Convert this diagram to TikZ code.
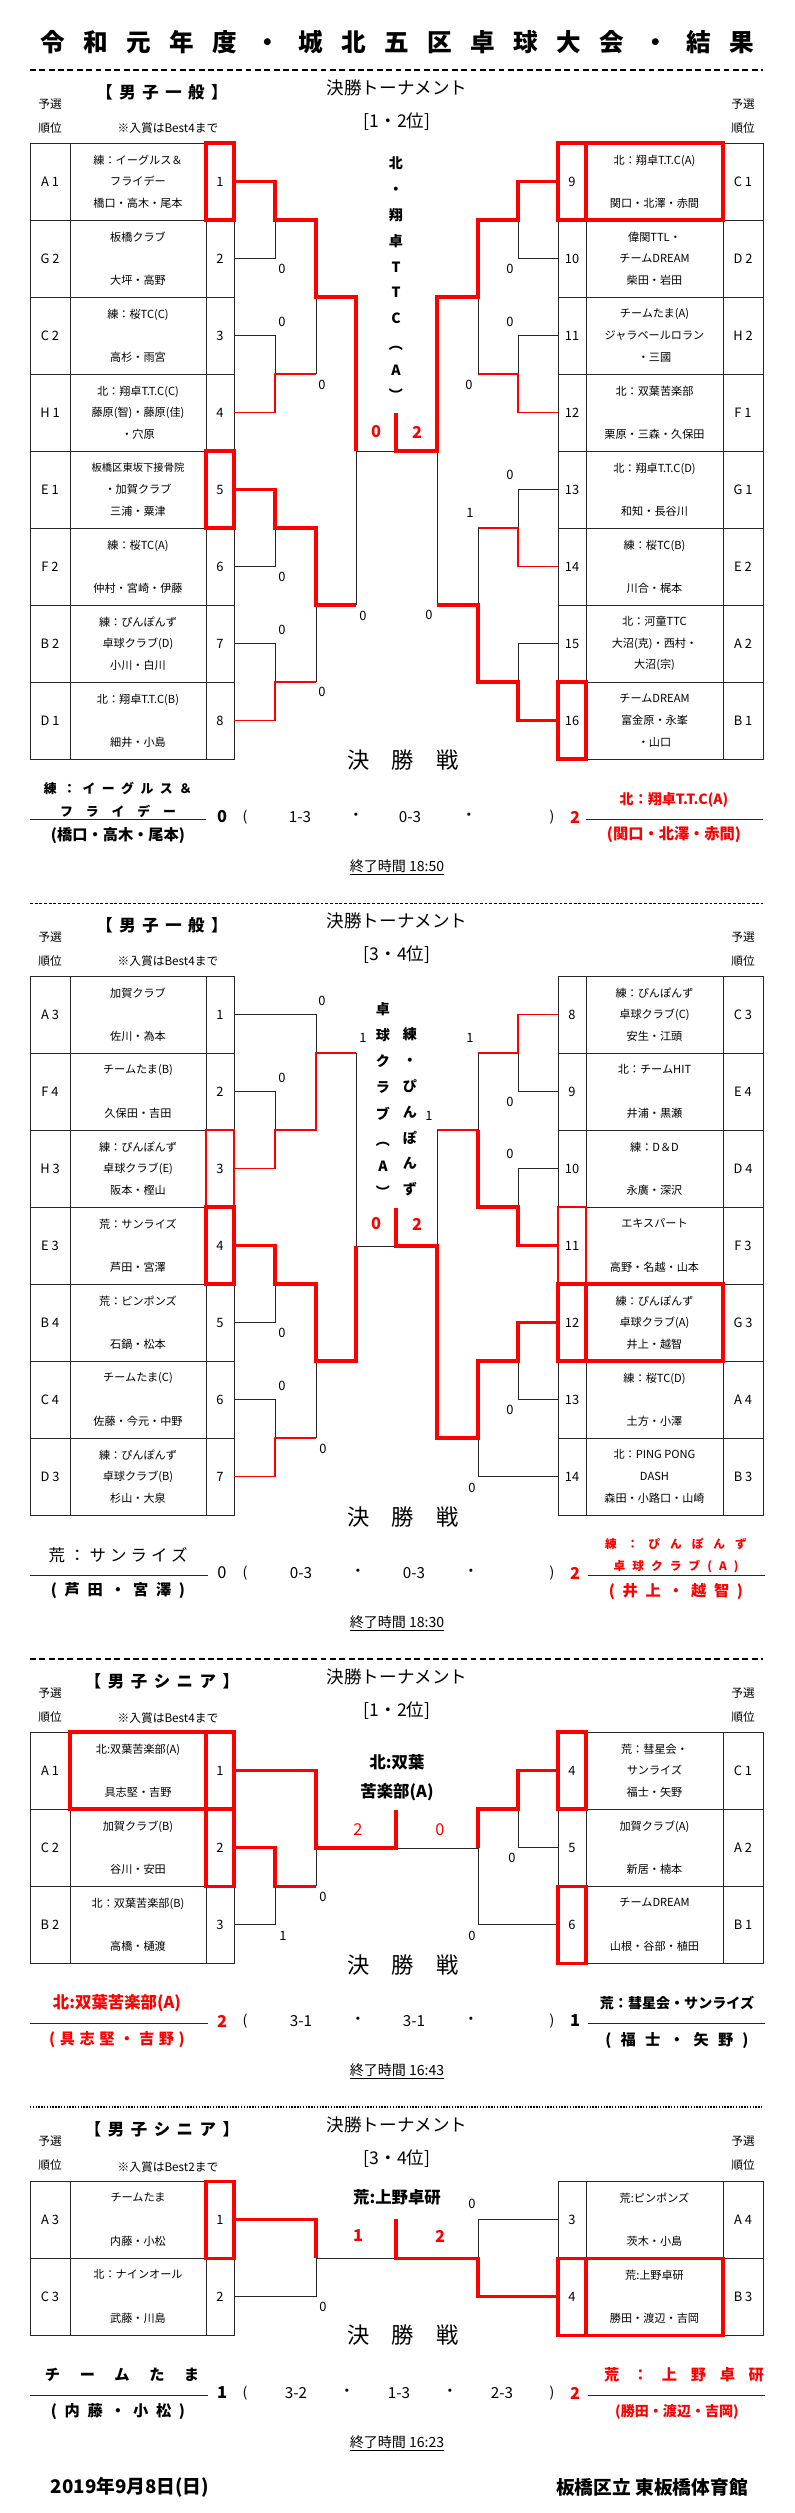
\documentclass[tikz,border=0pt]{standalone}
\usepackage{fontspec}
\setmainfont{Noto Sans CJK JP}
\usetikzlibrary{positioning}

\tikzset{
  grid/.style = {black!85, line width=0.8pt},
  br/.style   = {black!85, line width=0.8pt},
  wl/.style   = {red, line width=1pt},
  wt/.style   = {red, line width=2.6pt},
  cell/.style = {font=\fontsize{9.5}{18.5}\selectfont, align=center, inner sep=0pt},
  rank/.style = {font=\fontsize{11}{13}\selectfont, inner sep=0pt},
  sc/.style   = {font=\fontsize{11}{13}\selectfont, inner sep=0pt},
  rs/.style   = {font=\fontsize{14}{16}\bfseries\selectfont, text=red, inner sep=0pt},
  hd/.style   = {font=\fontsize{14}{16}\bfseries\addfontfeature{LetterSpace=40}\selectfont, inner sep=0pt},
  tn/.style   = {font=\fontsize{15}{18}\selectfont, inner sep=0pt},
  sm/.style   = {font=\fontsize{10}{12}\selectfont, inner sep=0pt},
  fin/.style  = {font=\fontsize{19}{22}\addfontfeature{LetterSpace=100}\selectfont, inner sep=0pt},
  vt/.style   = {font=\fontsize{12}{22}\bfseries\selectfont, align=center, inner sep=0pt},
  nm/.style   = {font=\fontsize{12}{14}\bfseries\selectfont, inner sep=0pt},
  tm/.style   = {font=\fontsize{12}{14}\selectfont, inner sep=0pt},
}

\newcounter{lbl}
\newcommand\sclab[4][sc]{\stepcounter{lbl}\node[#1] (lab\arabic{lbl}) at (#2,#3) {#4};}

% left table: prefix, top, rows rank/name/number
\newcommand\lefttable[3]{
  \foreach \rk/\nm/\n [count=\i] in {#3} {
    \pgfmathsetmacro\t{#2+77*(\i-1)}
    \draw[grid] (30,\t) rectangle (234,\t+77) (70,\t) -- (70,\t+77) (206,\t) -- (206,\t+77);
    \node[rank] (#1r\n) at (50,\t+38.5) {\rk};
    \node[cell] (#1t\n) at (138,\t+38.5) {\nm};
    \node[rank] (#1n\n) at (220,\t+38.5) {\n};
  }
}
\newcommand\righttable[3]{
  \foreach \rk/\nm/\n [count=\i] in {#3} {
    \pgfmathsetmacro\t{#2+77*(\i-1)}
    \draw[grid] (558,\t) rectangle (763,\t+77) (586,\t) -- (586,\t+77) (723,\t) -- (723,\t+77);
    \node[rank] (#1n\n) at (572,\t+38.5) {\n};
    \node[cell] (#1t\n) at (654.5,\t+38.5) {\nm};
    \node[rank] (#1r\n) at (743,\t+38.5) {\rk};
  }
}
% section head: prefix, y of rule, class label, round label, note, note y
\newcommand\sechead[6]{
  \node[hd] (#1hd) at (162,#2+22) {#3};
  \node[tn] (#1ko) at (397,#2+18) {決勝トーナメント};
  \node[tn] (#1rd) at (397,#2+52) {#4};
  \node[sm] (#1ya) at (50,#2+34) {予選};
  \node[sm] (#1yb) at (50,#2+58) {順位};
  \node[sm] (#1za) at (743,#2+34) {予選};
  \node[sm] (#1zb) at (743,#2+58) {順位};
  \node[sm] (#1nt) at (168,#6) {#5};
}
% score row: prefix, y, left score, list of x/text, right score
\newcommand\scorerow[5]{
  \node[font=\fontsize{14}{16}\bfseries\selectfont, inner sep=0pt] (#1ls) at (222,#2) {#3};
  \node[tm] (#1op) at (245,#2) {(};
  \foreach \xx/\tx [count=\k] in {#4} { \node[font=\fontsize{13}{15}\selectfont, inner sep=0pt] (#1s\k) at (\xx,#2) {\tx}; }
  \node[tm] (#1cp) at (552,#2) {)};
  \node[font=\fontsize{14}{16}\bfseries\selectfont, inner sep=0pt] (#1rs) at (575,#2) {#5};
}

\begin{document}
\begin{tikzpicture}[x=0.3mm, y=-0.3mm]
  \useasboundingbox (0,0) rectangle (794,2513);
  \node[font=\fontsize{21}{24}\bfseries\addfontfeature{LetterSpace=75}\selectfont, inner sep=0pt] (title) at (397,42) {令和元年度・城北五区卓球大会・結果};

  % ---------------- men 1-2
  \draw[line width=1.6pt, dash pattern=on 5pt off 3pt] (30,70) -- (763,70);
  \sechead{a}{70}{【男子一般】}{[1・2位]}{※入賞はBest4まで}{128}
  \lefttable{a}{143}{A 1/{練：イーグルス＆\\フライデー\\橋口・高木・尾本}/1, G 2/{板橋クラブ\\~\\大坪・高野}/2,
    C 2/{練：桜TC(C)\\~\\高杉・雨宮}/3, H 1/{北：翔卓T.T.C(C)\\藤原(智)・藤原(佳)\\・穴原}/4,
    E 1/{\fontsize{8.8}{18.5}\selectfont 板橋区東坂下接骨院\\・加賀クラブ\\三浦・粟津}/5, F 2/{練：桜TC(A)\\~\\仲村・宮崎・伊藤}/6,
    B 2/{練：ぴんぽんず\\卓球クラブ(D)\\小川・白川}/7, D 1/{北：翔卓T.T.C(B)\\~\\細井・小島}/8}
  \righttable{a}{143}{C 1/{北：翔卓T.T.C(A)\\~\\関口・北澤・赤間}/9, D 2/{偉関TTL・\\チームDREAM\\柴田・岩田}/10,
    H 2/{チームたま(A)\\ジャラベールロラン\\・三國}/11, F 1/{北：双葉苦楽部\\~\\栗原・三森・久保田}/12,
    G 1/{北：翔卓T.T.C(D)\\~\\和知・長谷川}/13, E 2/{練：桜TC(B)\\~\\川合・梶本}/14,
    A 2/{北：河童TTC\\大沼(克)・西村・\\大沼(宗)}/15, B 1/{チームDREAM\\富金原・永峯\\・山口}/16}
  \draw[br] (234,258.5) -| (275,220);
  \draw[br] (234,335.5) -| (275,374);
  \draw[wl] (234,412.5) -| (275,374) -- (316,374);
  \draw[br] (316,374) -- (316,297);
  \draw[br] (234,566.5) -| (275,528);
  \draw[br] (234,643.5) -| (275,682);
  \draw[wl] (234,720.5) -| (275,682) -- (316,682);
  \draw[br] (316,682) -- (316,605);
  \draw[br] (356,605) -- (356,451) -- (396,451);
  \draw[br] (558,258.5) -| (518,220);
  \draw[br] (558,335.5) -| (518,374);
  \draw[wl] (558,412.5) -| (518,374) -- (478,374);
  \draw[br] (478,374) -- (478,297);
  \draw[br] (558,489.5) -| (518,528);
  \draw[wl] (558,566.5) -| (518,528) -- (478,528);
  \draw[br] (558,643.5) -| (518,682);
  \draw[br] (478,528) -- (478,605);
  \draw[br] (437,605) -- (437,451);
  \draw[wt] (234,181.5) -| (275,220) -| (316,297) -| (356,451);
  \draw[wt] (234,489.5) -| (275,528) -| (316,605) -- (356,605);
  \draw[wt] (396,413) -- (396,451) -- (437,451) |- (478,297) |- (518,220) |- (558,181.5);
  \draw[wt] (558,720.5) -| (518,682) -| (478,605) -- (437,605);
  \draw[wt] (206,143) rectangle (234,220) (206,451) rectangle (234,528);
  \draw[wt] (558,143) rectangle (723,220) (586,143) -- (586,220) (558,682) rectangle (586,759);
  \sclab{282}{269}{0} \sclab{282}{322}{0} \sclab{322}{385}{0} \sclab{282}{577}{0} \sclab{282}{630}{0}
  \sclab{322}{692}{0} \sclab{363}{616}{0} \sclab{510}{269}{0} \sclab{510}{322}{0} \sclab{469}{385}{0}
  \sclab{510}{475}{0} \sclab{470}{513}{1} \sclab{429}{615}{0}
  \node[vt] (awin) at (396,279) {北\\・\\翔\\卓\\T\\T\\C\\︵\\A\\︶};
  \sclab[rs]{376}{432}{0} \sclab[rs]{417}{432}{2}
  \node[fin] (afin) at (403,760) {決勝戦};
  \node[nm, font=\fontsize{11}{13}\bfseries\addfontfeature{LetterSpace=50}\selectfont] (al1) at (118,788) {練：イーグルス＆};
  \node[nm, font=\fontsize{11}{13}\bfseries\addfontfeature{LetterSpace=100}\selectfont] (al2) at (118,811) {フライデー};
  \draw[grid] (30,819) -- (206,819);
  \node[nm, font=\fontsize{13}{15}\bfseries\selectfont] (al3) at (118,836) {(橋口・高木・尾本)};
  \scorerow{a}{817}{0}{300/1-3, 356/・, 410/0-3, 469/・}{\textcolor{red}{2}}
  \node[nm, text=red] (ar1) at (674,800) {北：翔卓T.T.C(A)};
  \draw[grid] (586,819) -- (763,819);
  \node[nm, text=red, font=\fontsize{13}{15}\bfseries\selectfont] (ar2) at (674,835) {(関口・北澤・赤間)};
  \node[tm] (aend) at (397,867) {\underline{終了時間 18:50}};

  % ---------------- men 3-4
  \draw[line width=0.6pt, dash pattern=on 2.5pt off 1.5pt] (30,903) -- (763,903);
  \sechead{b}{903}{【男子一般】}{[3・4位]}{※入賞はBest4まで}{961}
  \lefttable{b}{976}{A 3/{加賀クラブ\\~\\佐川・為本}/1, F 4/{チームたま(B)\\~\\久保田・吉田}/2,
    H 3/{練：ぴんぽんず\\卓球クラブ(E)\\阪本・樫山}/3, E 3/{荒：サンライズ\\~\\芦田・宮澤}/4,
    B 4/{荒：ピンポンズ\\~\\石鍋・松本}/5, C 4/{チームたま(C)\\~\\佐藤・今元・中野}/6,
    D 3/{練：ぴんぽんず\\卓球クラブ(B)\\杉山・大泉}/7}
  \righttable{b}{976}{C 3/{練：ぴんぽんず\\卓球クラブ(C)\\安生・江頭}/8, E 4/{北：チームHIT\\~\\井浦・黒瀬}/9,
    D 4/{練：D＆D\\~\\永廣・深沢}/10, F 3/{エキスパート\\~\\高野・名越・山本}/11,
    G 3/{練：ぴんぽんず\\卓球クラブ(A)\\井上・越智}/12, A 4/{練：桜TC(D)\\~\\土方・小澤}/13,
    B 3/{北：PING PONG\\DASH\\森田・小路口・山崎}/14}
  \draw[br] (234,1014.5) -| (316,1053);
  \draw[br] (234,1091.5) -| (275,1130);
  \draw[wl] (234,1168.5) -| (275,1130) -| (316,1053) -- (356,1053);
  \draw[br] (356,1053) -- (356,1246) -- (396,1246);
  \draw[br] (234,1322.5) -| (275,1284);
  \draw[br] (234,1399.5) -| (275,1438);
  \draw[wl] (234,1476.5) -| (275,1438) -- (316,1438);
  \draw[br] (316,1438) -- (316,1361);
  \draw[wl] (558,1014.5) -| (518,1053) -- (478,1053);
  \draw[br] (558,1091.5) -| (518,1053);
  \draw[br] (558,1168.5) -| (518,1207);
  \draw[br] (478,1053) -- (478,1130);
  \draw[wl] (478,1130) -- (437,1130);
  \draw[br] (437,1130) -- (437,1246);
  \draw[br] (558,1399.5) -| (518,1361);
  \draw[br] (558,1476.5) -| (478,1438);
  \draw[wt] (234,1245.5) -| (275,1284) -| (316,1361) -| (356,1246);
  \draw[wt] (558,1245.5) -| (518,1207) -| (478,1130);
  \draw[wt] (396,1208) -- (396,1246) -- (437,1246) |- (478,1438) |- (518,1361) |- (558,1322.5);
  \draw[wl] (206,1130) rectangle (234,1207) (558,1207) rectangle (586,1284);
  \draw[wt] (206,1207) rectangle (234,1284);
  \draw[wt] (558,1284) rectangle (723,1361) (586,1284) -- (586,1361);
  \sclab{322}{1001}{0} \sclab{363}{1038}{1} \sclab{282}{1078}{0} \sclab{282}{1333}{0} \sclab{282}{1386}{0}
  \sclab{323}{1449}{0} \sclab{470}{1038}{1} \sclab{510}{1102}{0} \sclab{510}{1154}{0} \sclab{429}{1116}{1}
  \sclab{510}{1410}{0} \sclab{472}{1488}{0}
  \node[vt, font=\fontsize{12}{22.3}\bfseries\selectfont] (bwl) at (383,1100) {卓\\球\\ク\\ラ\\ブ\\︵\\A\\︶};
  \node[vt] (bwr) at (410,1112) {練\\・\\ぴ\\ん\\ぽ\\ん\\ず};
  \sclab[rs]{376}{1224}{0} \sclab[rs]{417}{1224}{2}
  \node[fin] (bfin) at (403,1517) {決勝戦};
  \node[tn, font=\fontsize{14}{16}\addfontfeature{LetterSpace=25}\selectfont] (bl1) at (118,1555) {荒：サンライズ};
  \draw[grid] (30,1575) -- (208,1575);
  \node[nm, font=\fontsize{13}{15}\bfseries\addfontfeature{LetterSpace=50}\selectfont] (bl2) at (118,1591) {(芦田・宮澤)};
  \scorerow{b}{1573}{\mdseries 0}{301/0-3, 358/・, 414/0-3, 471/・}{\textcolor{red}{2}}
  \node[nm, text=red, font=\fontsize{10}{12}\bfseries\addfontfeature{LetterSpace=85}\selectfont] (br1) at (676,1544) {練：ぴんぽんず};
  \node[nm, text=red, font=\fontsize{10}{12}\bfseries\addfontfeature{LetterSpace=60}\selectfont] (br2) at (676,1567) {卓球クラブ(A)};
  \draw[grid] (588,1575) -- (765,1575);
  \node[nm, text=red, font=\fontsize{13}{15}\bfseries\addfontfeature{LetterSpace=50}\selectfont] (br3) at (676,1591) {(井上・越智)};
  \node[tm] (bend) at (397,1623) {\underline{終了時間 18:30}};

  % ---------------- senior 1-2
  \draw[line width=1.6pt, dash pattern=on 5pt off 3pt] (30,1659) -- (763,1659);
  \sechead{c}{1659}{【男子シニア】}{[1・2位]}{※入賞はBest4まで}{1718}
  \lefttable{c}{1732}{A 1/{北:双葉苦楽部(A)\\~\\具志堅・吉野}/1, C 2/{加賀クラブ(B)\\~\\谷川・安田}/2,
    B 2/{北：双葉苦楽部(B)\\~\\高橋・樋渡}/3}
  \righttable{c}{1732}{C 1/{荒：彗星会・\\サンライズ\\福士・矢野}/4, A 2/{加賀クラブ(A)\\~\\新居・楠本}/5,
    B 1/{チームDREAM\\~\\山根・谷部・植田}/6}
  \draw[br] (234,1924.5) -| (275,1886);
  \draw[br] (316,1886) -- (316,1848);
  \draw[br] (396,1848) -- (478,1848);
  \draw[br] (518,1809) |- (558,1847.5);
  \draw[br] (478,1848) |- (558,1924.5);
  \draw[wt] (234,1770.5) -| (316,1848) -- (396,1848) -- (396,1810);
  \draw[wt] (234,1847.5) -| (275,1886) -- (316,1886);
  \draw[wt] (478,1848) |- (518,1809) |- (558,1770.5);
  \draw[wt] (70,1732) rectangle (234,1809) (206,1732) -- (206,1809) (206,1809) rectangle (234,1886);
  \draw[wt] (558,1732) rectangle (586,1809) (558,1886) rectangle (586,1963);
  \sclab{323}{1897}{0} \sclab{283}{1936}{1} \sclab{512}{1858}{0} \sclab{472}{1936}{0}
  \node[nm, font=\fontsize{14}{16}\bfseries\selectfont] (cw1) at (397,1762) {北:双葉};
  \node[nm, font=\fontsize{14}{16}\bfseries\selectfont] (cw2) at (397,1792) {苦楽部(A)};
  \sclab[rs]{358}{1830}{\mdseries 2} \sclab[rs]{440}{1830}{\mdseries 0}
  \node[fin] (cfin) at (403,1965) {決勝戦};
  \node[nm, text=red, font=\fontsize{14}{16}\bfseries\selectfont] (cl1) at (117,2003) {北:双葉苦楽部(A)};
  \draw[grid] (30,2023) -- (208,2023);
  \node[nm, text=red, font=\fontsize{13}{15}\bfseries\addfontfeature{LetterSpace=30}\selectfont] (cl2) at (117,2040) {(具志堅・吉野)};
  \scorerow{c}{2021}{\textcolor{red}{2}}{301/3-1, 358/・, 414/3-1, 471/・}{1}
  \node[nm] (cr1) at (677,2003) {荒：彗星会・サンライズ};
  \draw[grid] (588,2023) -- (765,2023);
  \node[nm, font=\fontsize{13}{15}\bfseries\addfontfeature{LetterSpace=60}\selectfont] (cr2) at (677,2040) {(福士・矢野)};
  \node[tm] (cend) at (397,2071) {\underline{終了時間 16:43}};

  % ---------------- senior 3-4
  \draw[line width=1.3pt, dash pattern=on 1.2pt off 1.2pt] (30,2107) -- (763,2107);
  \sechead{d}{2107}{【男子シニア】}{[3・4位]}{※入賞はBest2まで}{2167}
  \lefttable{d}{2181}{A 3/{チームたま\\~\\内藤・小松}/1, C 3/{北：ナインオール\\~\\武藤・川島}/2}
  \righttable{d}{2181}{A 4/{荒:ピンポンズ\\~\\茨木・小島}/3, B 3/{荒:上野卓研\\~\\勝田・渡辺・吉岡}/4}
  \draw[br] (234,2296.5) -| (316,2258) -- (396,2258);
  \draw[br] (558,2219.5) -| (478,2258);
  \draw[wt] (234,2219.5) -| (316,2258);
  \draw[wt] (396,2219) -- (396,2258) -- (478,2258) |- (558,2296.5);
  \draw[wt] (206,2181) rectangle (234,2258);
  \draw[wt] (558,2258) rectangle (723,2335) (586,2258) -- (586,2335);
  \sclab{472}{2204}{0} \sclab{323}{2307}{0}
  \node[nm, font=\fontsize{14}{16}\bfseries\selectfont] (dw1) at (397,2197) {荒:上野卓研};
  \sclab[rs]{358}{2236}{1} \sclab[rs]{440}{2236}{2}
  \node[fin] (dfin) at (403,2335) {決勝戦};
  \node[nm, font=\fontsize{13}{15}\bfseries\addfontfeature{LetterSpace=130}\selectfont] (dl1) at (122,2375) {チームたま};
  \draw[grid] (30,2395) -- (208,2395);
  \node[nm, font=\fontsize{13}{15}\bfseries\addfontfeature{LetterSpace=50}\selectfont] (dl2) at (118,2412) {(内藤・小松)};
  \scorerow{d}{2393}{1}{296/3-2, 347/・, 399/1-3, 450/・, 502/2-3}{\textcolor{red}{2}}
  \node[nm, text=red, font=\fontsize{13}{15}\bfseries\addfontfeature{LetterSpace=90}\selectfont] (dr1) at (684,2375) {荒：上野卓研};
  \draw[grid] (588,2395) -- (765,2395);
  \node[nm, text=red, font=\fontsize{12}{14}\bfseries\selectfont] (dr2) at (677,2412) {(勝田・渡辺・吉岡)};
  \node[tm] (dend) at (397,2443) {\underline{終了時間 16:23}};

  \node[font=\fontsize{16}{18}\bfseries\selectfont, inner sep=0pt] (date) at (130,2487) {2019年9月8日(日)};
  \node[font=\fontsize{16}{18}\bfseries\selectfont, inner sep=0pt] (venue) at (652,2487) {板橋区立 東板橋体育館};
\end{tikzpicture}
\end{document}
